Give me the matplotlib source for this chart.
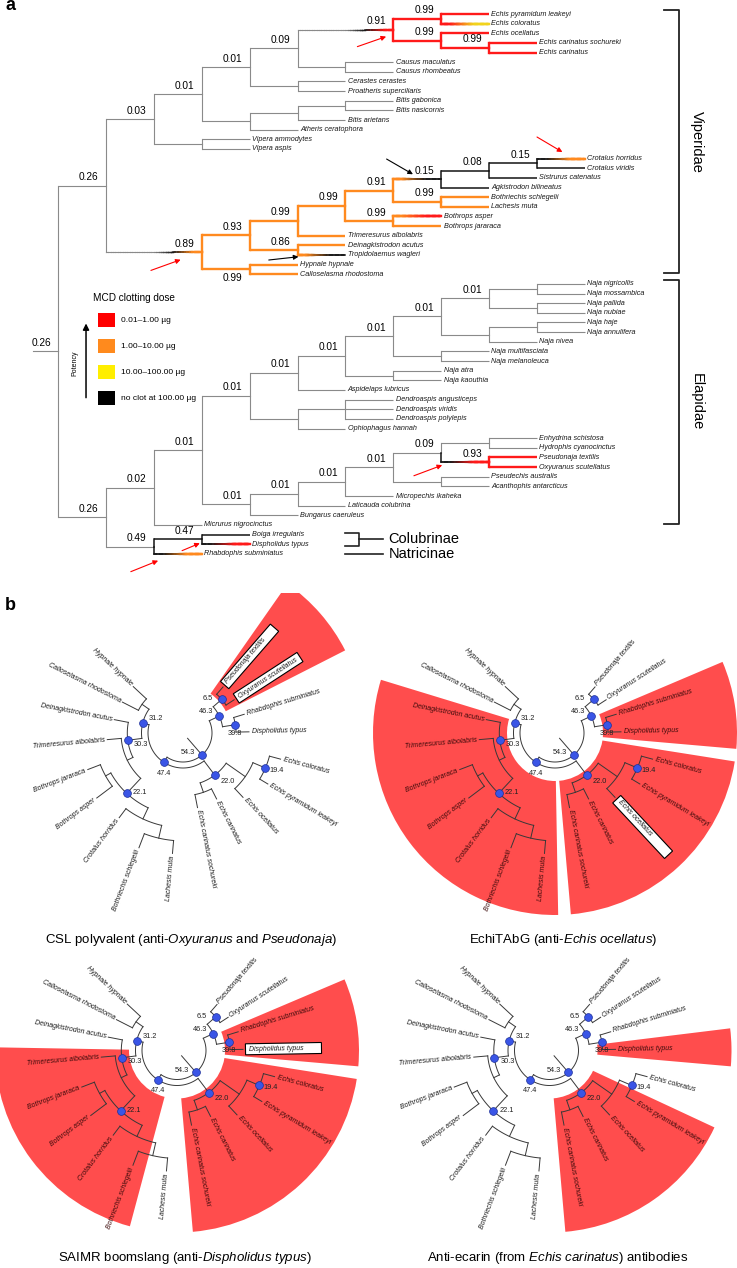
import numpy as np
import matplotlib
matplotlib.use("Agg")
import matplotlib.pyplot as plt
from matplotlib.collections import LineCollection
from matplotlib.colors import to_rgb
from matplotlib.patches import Rectangle, Wedge

plt.rcParams['font.family'] = ['Liberation Sans', 'DejaVu Sans']
plt.rcParams['mathtext.fontset'] = 'custom'
plt.rcParams['mathtext.rm'] = 'Liberation Sans'
plt.rcParams['mathtext.it'] = 'Liberation Sans:italic'

W, H = 737, 1268

# ------------------------------
# Panel a : species tree (branch lengths in depth levels)
# ------------------------------
viperidae = (
    "(((((((Echis pyramidum leakeyi:1,Echis coloratus:1)E1:1,"
    "(Echis ocellatus:1,(Echis carinatus sochureki:1,Echis carinatus:1)E3:1)E2:1)Echis:2,"
    "(Causus maculatus:1,Causus rhombeatus:1):1)V09:1,"
    "(Cerastes cerastes:1,Proatheris superciliaris:1):1)V01b:1,"
    "(((Bitis gabonica:1,Bitis nasicornis:1):1,Bitis arietans:1):1,Atheris ceratophora:1):1)V01a:1,"
    "(Vipera ammodytes:1,Vipera aspis:1):1)V03:1,"
    "((((((((Crotalus horridus:1,Crotalus viridis:1)C15:1,Sistrurus catenatus:1)C08:1,"
    "Agkistrodon bilineatus:1)C15b:1,(Bothriechis schlegelii:1,Lachesis muta:1)C99d:1)C91:1,"
    "(Bothrops asper:1,Bothrops jararaca:1)C99c:1)C99b:1,Trimeresurus albolabris:1)C99a:1,"
    "(Deinagkistrodon acutus:1,Tropidolaemus wagleri:1)C86:1)C93:1,"
    "(Hypnale hypnale:1,Calloselasma rhodostoma:1)C99e:1)C89:2)VIP:1"
)
elapidae = (
    "((((((((((Naja nigricollis:1,Naja mossambica:1):1,(Naja pallida:1,Naja nubiae:1):1)N1:1,"
    "((Naja haje:1,Naja annulifera:1):1,Naja nivea:1):1)N2:1,"
    "(Naja multifasciata:1,Naja melanoleuca:1):1)N3:1,(Naja atra:1,Naja kaouthia:1):1)N4:1,"
    "Aspidelaps lubricus:1)N5:1,"
    "((Dendroaspis angusticeps:1,Dendroaspis viridis:1,Dendroaspis polylepis:1):1,Ophiophagus hannah:1):1)L01a:1,"
    "((((((Enhydrina schistosa:1,Hydrophis cyanocinctus:1):1,"
    "(Pseudonaja textilis:1,Oxyuranus scutellatus:1)P93:1)P09:1,"
    "(Pseudechis australis:1,Acanthophis antarcticus:1):1)S1:1,Micropechis ikaheka:1)S2:1,"
    "Laticauda colubrina:1)S3:1,Bungarus caeruleus:1)S4:1)L01:1,Micrurus nigrocinctus:1)L02:1,"
    "((Boiga irregularis:1,Dispholidus typus:1)B47:1,Rhabdophis subminiatus:1)B49:1)ELA:1"
)
tree_a = "(" + viperidae + "," + elapidae + ")root"

support_a = {
    'root': '0.26', 'VIP': '0.26', 'V03': '0.03', 'V01a': '0.01', 'V01b': '0.01', 'V09': '0.09',
    'Echis': '0.91', 'E1': '0.99', 'E2': '0.99', 'E3': '0.99',
    'C89': '0.89', 'C93': '0.93', 'C99a': '0.99', 'C99b': '0.99', 'C91': '0.91', 'C15b': '0.15',
    'C08': '0.08', 'C15': '0.15', 'C99c': '0.99', 'C99d': '0.99', 'C86': '0.86', 'C99e': '0.99',
    'ELA': '0.26', 'L02': '0.02', 'L01': '0.01', 'L01a': '0.01', 'N5': '0.01', 'N4': '0.01',
    'N3': '0.01', 'N2': '0.01', 'N1': '0.01', 'S4': '0.01', 'S3': '0.01', 'S2': '0.01', 'S1': '0.01',
    'P09': '0.09', 'P93': '0.93', 'B49': '0.49', 'B47': '0.47',
}
support_below = ['C99e']

# MCD class per branch: g none/grey, r 0.01-1, o 1-10, y 10-100, k no clot ; ">" = transition
edge_colour = {
    'Echis': 'g>k>r', 'Echis coloratus': 'r>y', 'C89': 'g>k>o', 'C15b': 'o>k',
    'Crotalus horridus': 'k>o', 'Bothrops asper': 'o>r', 'Tropidolaemus wagleri': 'o>k',
    'P93': 'k>r', 'B47': 'k', 'Dispholidus typus': 'k>r', 'Rhabdophis subminiatus': 'k>o',
}

# arrows: target node, colour, head offset, tail offset (levels, rows)
arrow_marks = [
    ('Echis', 'red', -0.15, 0.72, -0.75, 1.76),
    ('Crotalus horridus', 'red', -0.47, -0.68, -1.0, -2.24),
    ('C15b', 'black', -0.59, -0.5, -1.14, -2.08),
    ('C89', 'red', -0.44, 0.75, -1.06, 1.86),
    ('Tropidolaemus wagleri', 'black', -0.98, 0.18, -1.6, 0.52),
    ('P93', 'red', -0.98, 0.3, -1.57, 1.4),
    ('B47', 'red', -0.04, 0.4, -0.41, 1.17),
    ('Rhabdophis subminiatus', 'red', -0.91, 0.71, -1.48, 1.85),
]

dose_labels = ['0.01\u20131.00 \u00b5g', '1.00\u201310.00 \u00b5g', '10.00\u2013100.00 \u00b5g',
               'no clot at 100.00 \u00b5g']
dose_colours = ['#ff0000', '#ff8a1d', '#ffee00', '#000000']

# ------------------------------
# Panel b : circular trees (branch lengths in px)
# ------------------------------
fan_tree = (
    "((((Hypnale hypnale:18,Calloselasma rhodostoma:18):8.5,"
    "(Deinagkistrodon acutus:14.3,(Trimeresurus albolabris:14,"
    "((Bothrops jararaca:13.5,Bothrops asper:19.5):6,"
    "(Crotalus horridus:11.2,(Bothriechis schlegelii:15,Lachesis muta:13):13.1):12.3)22.1:20.5):6.3)30.3:14.2)31.2:6.5,"
    "((Echis carinatus sochureki:13.3,Echis carinatus:11.3):10,"
    "(Echis ocellatus:12,(Echis pyramidum leakeyi:9.5,Echis coloratus:11.5)19.4:13.5):23.3)22.0:17.7)47.4:6,"
    "((Dispholidus typus:13,Rhabdophis subminiatus:11)39.8:13,"
    "(Oxyuranus scutellatus:9.7,Pseudonaja textilis:9.7)6.5:11.3)46.3:11)54.3:29"
)

antivenoms = [
    "CSL polyvalent (anti-$\\it{Oxyuranus}$ and $\\it{Pseudonaja}$)",
    "EchiTAbG (anti-$\\it{Echis\\ ocellatus}$)",
    "SAIMR boomslang (anti-$\\it{Dispholidus\\ typus}$)",
    "Anti-ecarin (from $\\it{Echis\\ carinatus}$) antibodies",
]
# neutralised clades (first tip, last tip) shaded per antivenom
neutralised = [
    [('Oxyuranus scutellatus', 'Pseudonaja textilis')],
    [('Deinagkistrodon acutus', 'Lachesis muta'), ('Echis carinatus sochureki', 'Echis coloratus'),
     ('Dispholidus typus', 'Rhabdophis subminiatus')],
    [('Trimeresurus albolabris', 'Bothriechis schlegelii'), ('Echis carinatus sochureki', 'Echis coloratus'),
     ('Dispholidus typus', 'Rhabdophis subminiatus')],
    [('Echis carinatus sochureki', 'Echis pyramidum leakeyi'), ('Dispholidus typus', 'Dispholidus typus')],
]
immunising = [
    ['Oxyuranus scutellatus', 'Pseudonaja textilis'],
    ['Echis ocellatus'],
    ['Dispholidus typus'],
    [],
]


def parse(s):
    pos = 0

    def node():
        nonlocal pos
        children = []
        if s[pos] == '(':
            pos += 1
            while True:
                children.append(node())
                if s[pos] == ',':
                    pos += 1
                else:
                    break
            pos += 1
        start = pos
        while pos < len(s) and s[pos] not in ',():':
            pos += 1
        name = s[start:pos].strip()
        length = 0.0
        if pos < len(s) and s[pos] == ':':
            pos += 1
            start = pos
            while pos < len(s) and s[pos] not in ',()':
                pos += 1
            length = float(s[start:pos])
        return {'name': name, 'len': length, 'children': children}

    t = node()
    assert pos == len(s)
    return t


def place(node, x0, tips):
    node['x'] = x0 + node['len']
    if node['children']:
        for c in node['children']:
            place(c, node['x'], tips)
        node['y'] = (node['children'][0]['y'] + node['children'][-1]['y']) / 2
    else:
        node['y'] = len(tips)
        tips.append(node)


def walk(node):
    yield node
    for c in node['children']:
        yield from walk(c)


fig = plt.figure(figsize=(W / 100, H / 100), dpi=100)


def px_axes(x0, y0, x1, y1):
    ax = fig.add_axes([x0 / W, 1 - y1 / H, (x1 - x0) / W, (y1 - y0) / H])
    ax.set_axis_off()
    return ax


# ------------------------------
# Panel a
# ------------------------------
PAL = {k: np.array(to_rgb(v)) for k, v in
       {'g': '#8a8a8a', 'k': '#141414', 'r': '#ff1a1a', 'o': '#ff8a1f', 'y': '#f2d31c'}.items()}
LW = {'g': 0.8, 'k': 1.1, 'r': 1.7, 'o': 1.7, 'y': 1.7}


def blend(stops, t, t0, t1, table):
    vals = [table[s] for s in stops]
    u = np.clip((t - t0) / (t1 - t0), 0, 1) * (len(vals) - 1)
    k = min(int(u), len(vals) - 2)
    f = u - k
    return vals[k] * (1 - f) + vals[k + 1] * f


root_a = parse(tree_a)
tips_a = []
place(root_a, 0.0, tips_a)
assert len(tips_a) == 57
nodes_a = {n['name']: n for n in walk(root_a) if n['name']}


def set_colours(node, inherited):
    node['stops'] = edge_colour.get(node['name'], inherited).split('>')
    for c in node['children']:
        set_colours(c, node['stops'][-1])


set_colours(root_a, 'g')

L0, LSTEP, R0, RSTEP = 58, 47.9, 14, 9.64
axa = px_axes(0, 0, W, 590)
axa.set_xlim(-L0 / LSTEP, (W - L0) / LSTEP)
axa.set_ylim((590 - R0) / RSTEP, -R0 / RSTEP)


def draw_rect(node):
    for c in node['children']:
        s = c['stops']
        axa.plot([node['x'], node['x']], [node['y'], c['y']], color=PAL[s[0]], lw=LW[s[0]],
                 solid_capstyle='projecting', zorder=2)
        if len(s) == 1:
            axa.plot([node['x'], c['x']], [c['y'], c['y']], color=PAL[s[0]], lw=LW[s[0]],
                     solid_capstyle='butt', zorder=2)
        else:
            t0, t1 = (0.5, 0.92) if c['len'] >= 2 else (0.2, 0.7)
            xs = np.linspace(node['x'], c['x'], 41)
            segs = [[(xs[k], c['y']), (xs[k + 1], c['y'])] for k in range(40)]
            tc = (np.arange(40) + 0.5) / 40
            cols = [blend(s, t, t0, t1, PAL) for t in tc]
            lws = [float(blend(s, t, t0, t1, LW)) for t in tc]
            axa.add_collection(LineCollection(segs, colors=cols, linewidths=lws,
                                              capstyle='projecting', zorder=2))
        draw_rect(c)


draw_rect(root_a)
axa.plot([-0.52, 0], [root_a['y'], root_a['y']], color=PAL['g'], lw=LW['g'])

for tip in tips_a:
    axa.text(tip['x'] + 0.05, tip['y'], tip['name'], fontsize=5.2, style='italic',
             va='center', ha='left', color='#1a1a1a')

for name, val in support_a.items():
    n = nodes_a[name]
    dy = 0.85 if name in support_below else -0.88
    axa.text(n['x'] - 0.355, n['y'] + dy, val, fontsize=7.3, ha='center', va='center')

for name, col, hx, hy, tx, ty in arrow_marks:
    n = nodes_a[name]
    axa.annotate('', xy=(n['x'] + hx, n['y'] + hy), xytext=(n['x'] + tx, n['y'] + ty),
                 arrowprops=dict(arrowstyle='-|>', color=col, lw=0.8, mutation_scale=7,
                                 shrinkA=0, shrinkB=0))

# clade brackets
for clade, label in [('VIP', 'Viperidae'), ('ELA', 'Elapidae')]:
    rows = [t['y'] for t in walk(nodes_a[clade]) if not t['children']]
    if clade == 'ELA':
        rows = [r for r in rows if r <= nodes_a['L02']['children'][-1]['y']]
    top, bot = min(rows) - 0.45, max(rows) - 0.1
    axa.plot([12.65, 12.96, 12.96, 12.65], [top, top, bot, bot], color='#222222', lw=1.3)
    axa.text(13.34, (top + bot) / 2, label, rotation=-90, fontsize=10.5, ha='center', va='center')

# subfamily key
boiga, disph, rhab = (nodes_a[k]['y'] for k in ['Boiga irregularis', 'Dispholidus typus',
                                                  'Rhabdophis subminiatus'])
axa.plot([6.0, 6.28, 6.28, 6.0], [boiga - 0.15, boiga - 0.15, disph + 0.15, disph + 0.15],
         color='#222222', lw=1.2)
axa.plot([6.28, 6.78], [(boiga + disph) / 2] * 2, color='#222222', lw=1.2)
axa.plot([6.0, 6.78], [rhab, rhab], color='#222222', lw=1.2)
axa.text(6.9, (boiga + disph) / 2, 'Colubrinae', fontsize=10.5, va='center')
axa.text(6.9, rhab, 'Natricinae', fontsize=10.5, va='center')

# MCD legend
axa.text(1.59, 29.5, 'MCD clotting dose', fontsize=7.2, ha='center', va='center')
for i, (lab, col) in enumerate(zip(dose_labels, dose_colours)):
    top = 31.0 + 2.7 * i
    axa.add_patch(Rectangle((0.835, top), 0.355, 1.5, facecolor=col, edgecolor='none'))
    axa.text(1.315, top + 0.75, lab, fontsize=6.0, va='center')
axa.annotate('', xy=(0.585, 32.1), xytext=(0.585, 39.8),
             arrowprops=dict(arrowstyle='-|>', color='black', lw=1.1, mutation_scale=9,
                             shrinkA=0, shrinkB=0))
axa.text(0.36, 36.2, 'Potency', rotation=90, fontsize=5, ha='center', va='center')

# ------------------------------
# Panel b
# ------------------------------
FAN_START, FAN_STEP = 137.0, 16.0
R_IN, R_OUT = 48, 182
centres = [(183, 733), (555, 733), (177, 1050.5), (549.5, 1050.5)]
value_offset = {'54.3': (-14.3, 2.3), '47.4': (0, -11), '31.2': (13.3, 4.3), '30.3': (13.3, -4),
                '22.1': (13.3, 0.7), '22.0': (12.7, -6), '19.4': (11.7, -2.3),
                '46.3': (-13.3, 4.3), '6.5': (-13.7, 0.7), '39.8': (0, -8.7)}

root_b = parse(fan_tree)
tips_b = []
place(root_b, 0.0, tips_b)
tip_row = {t['name']: t['y'] for t in tips_b}


def ang(row):
    return FAN_START + FAN_STEP * row


def polar(r, a):
    t = np.radians(a)
    return r * np.cos(t), r * np.sin(t)


def draw_fan(ax, node):
    if not node['children']:
        return
    angs = [ang(c['y']) for c in node['children']]
    arc = np.linspace(min(angs), max(angs), 60)
    ax.plot(*polar(node['x'], arc), color='#383838', lw=0.7, zorder=2)
    for c in node['children']:
        ax.plot(*polar(np.array([node['x'], c['x']]), ang(c['y'])), color='#383838', lw=0.7, zorder=2)
        draw_fan(ax, c)


for k, (cx, cy) in enumerate(centres):
    ax = px_axes(cx - 185, cy - 140, cx + 185, cy + 215)
    ax.set_xlim(-185, 185)
    ax.set_ylim(-215, 140)

    shaded = set()
    for first, last in neutralised[k]:
        a0 = ang(tip_row[first]) - FAN_STEP / 2 + 2
        a1 = ang(tip_row[last]) + FAN_STEP / 2 - 2
        ax.add_patch(Wedge((0, 0), R_OUT, a0, a1, width=R_OUT - R_IN, facecolor='#ff4d4d',
                           edgecolor='none', zorder=1))
        shaded.update(range(int(tip_row[first]), int(tip_row[last]) + 1))

    draw_fan(ax, root_b)
    ax.plot(*polar(np.array([7, root_b['x']]), ang(root_b['y'])), color='#383838', lw=0.7, zorder=2)

    for n in walk(root_b):
        if n['name'] in value_offset:
            x, y = polar(n['x'], ang(n['y']))
            ax.plot(x, y, 'o', ms=5.6, mfc='#3a55e6', mec='#1c2f99', mew=0.5, zorder=5)
            ox, oy = value_offset[n['name']]
            ax.text(x + ox, y + oy, n['name'], fontsize=5.3, ha='center', va='center',
                    color='#222222', zorder=6)

    for t in tips_b:
        a = ang(t['y'])
        r = t['x'] + 2.5
        boxed = t['name'] in immunising[k]
        if boxed:
            tt = np.radians(a)
            p = r * np.array([np.cos(tt), np.sin(tt)]) - 5.5 * np.array([-np.sin(tt), np.cos(tt)])
            ax.add_patch(Rectangle(p, 76, 11, angle=a, facecolor='white', edgecolor='black',
                                   lw=0.8, zorder=3))
            r += 3
        colour = '#3d0b0b' if (int(t['y']) in shaded and not boxed) else '#1a1a1a'
        left = 90 < (a % 360) < 270
        x, y = polar(r, a)
        ax.text(x, y, t['name'], fontsize=5.0, style='italic', color=colour,
                rotation=a - 180 if left else a, rotation_mode='anchor',
                ha='right' if left else 'left', va='center', zorder=4)

    ax.text(8, -207, antivenoms[k], fontsize=9.5, ha='center', va='center')

fig.text(5 / W, 1 - 6 / H, 'a', fontsize=13, fontweight='bold', ha='left', va='center')
fig.text(5 / W, 1 - 606 / H, 'b', fontsize=13, fontweight='bold', ha='left', va='center')

fig.savefig('out.png', dpi=100, facecolor='white')
